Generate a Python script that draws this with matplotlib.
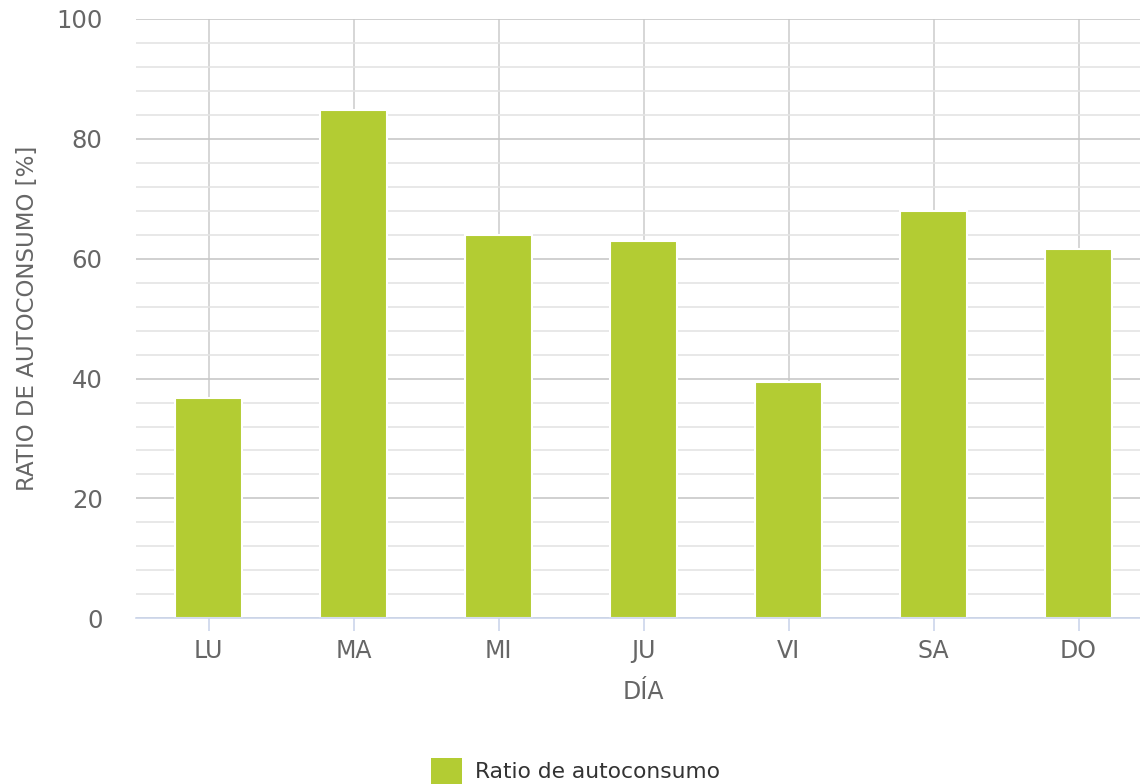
import numpy as np
import matplotlib.pyplot as plt
from matplotlib.patches import Patch
from matplotlib.ticker import MultipleLocator

# Data
dias = ["LU", "MA", "MI", "JU", "VI", "SA", "DO"]
ratio = [36.8, 84.8, 63.9, 62.9, 39.4, 67.9, 61.7]

bar_color = "#b3cc33"
text_color = "#666666"

plt.rcParams['font.family'] = ['DejaVu Sans']

fig = plt.figure(figsize=(11.4, 7.84), dpi=100)
ax = fig.add_axes([136 / 1140, 1 - 618.3 / 784, 1015 / 1140, (618.3 - 19) / 784])

x = np.arange(len(dias))
ax.bar(x, ratio, width=0.46, color=bar_color, edgecolor="white", linewidth=1.5,
       zorder=3)

ax.set_xlim(-0.5, len(dias) - 0.5)
ax.set_ylim(0, 100)
ax.yaxis.set_major_locator(MultipleLocator(20))
ax.yaxis.set_minor_locator(MultipleLocator(4))

# gridlines
ax.grid(which="major", axis="y", color="#c8c8c8", linewidth=1.2, zorder=0)
ax.grid(which="minor", axis="y", color="#e4e4e4", linewidth=1.2, zorder=0)
ax.grid(which="major", axis="x", color="#d0d0d0", linewidth=1.2, zorder=0)

for side in ["top", "right", "left"]:
    ax.spines[side].set_visible(False)
ax.spines["bottom"].set_color("#ccd6eb")
ax.spines["bottom"].set_linewidth(1.2)
ax.spines["bottom"].set_zorder(4)

ax.set_xticks(x)
ax.set_xticklabels(dias)
ax.tick_params(axis="x", colors="#ccd6eb", length=9, width=1.2, pad=6,
               labelcolor=text_color, labelsize=17)
ax.tick_params(axis="y", which="both", length=0, pad=24, labelcolor=text_color,
               labelsize=17.5)

ax.set_xlabel("DÍA", fontsize=17, color=text_color, labelpad=12)
ax.set_ylabel("RATIO DE AUTOCONSUMO [%]", fontsize=16.5, color=text_color)
ax.yaxis.set_label_coords(-0.096, 0.5)

handle = Patch(facecolor=bar_color, edgecolor="none")
fig.legend([handle], ["Ratio de autoconsumo"], loc="center", bbox_to_anchor=(0.505, 1 - 771 / 784),
           frameon=False, fontsize=15.7, labelcolor="#333333", handlelength=1.4,
           handleheight=1.4, handletextpad=0.6)

plt.savefig("out.png", dpi=100)
